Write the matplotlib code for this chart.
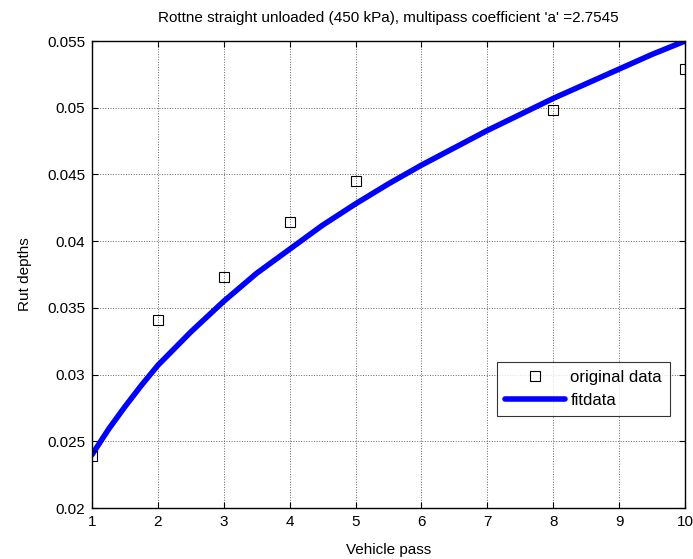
import matplotlib
matplotlib.use("Agg")
import matplotlib.pyplot as plt

plt.rcParams['font.family'] = ['Liberation Sans', 'DejaVu Sans']

# measured rut depths
passes = [1, 2, 3, 4, 5, 8, 10]
rut_depths = [0.0239, 0.0341, 0.0373, 0.0414, 0.0445, 0.0498, 0.0529]

# fitted curve
fit_x = [1, 1.25, 1.5, 1.75, 2, 2.5, 3, 3.5, 4, 4.5, 5, 5.5, 6, 6.5, 7,
         7.5, 8, 8.5, 9, 9.5, 10]
fit_y = [0.0240, 0.0259, 0.0276, 0.0292, 0.0307, 0.0332, 0.0355, 0.0376,
         0.0394, 0.0412, 0.0428, 0.0443, 0.0457, 0.0470, 0.0483, 0.0495,
         0.0507, 0.0518, 0.0529, 0.0540, 0.0550]

title = "Rottne straight unloaded (450 kPa), multipass coefficient 'a' =2.7545"
x_ticks = [1, 2, 3, 4, 5, 6, 7, 8, 9, 10]
y_ticks = [0.02, 0.025, 0.03, 0.035, 0.04, 0.045, 0.05, 0.055]
y_tick_labels = ['0.02', '0.025', '0.03', '0.035', '0.04', '0.045', '0.05', '0.055']

FS = 11

fig = plt.figure(figsize=(6.93, 5.59), dpi=100)
ax = fig.add_axes([0.1328, 0.0912, 0.8557, 0.8354])

ax.plot(passes, rut_depths, linestyle='none', marker='s', markersize=6.5,
        markerfacecolor='none', markeredgecolor='black', markeredgewidth=0.8,
        label='original data', zorder=3)
ax.plot(fit_x, fit_y, color='#0000ff', linewidth=4.0, label='fitdata',
        solid_capstyle='round', zorder=2)

ax.set_xlim(1, 10)
ax.set_ylim(0.02, 0.055)
ax.set_xticks(x_ticks)
ax.set_xticklabels([str(v) for v in x_ticks])
ax.set_yticks(y_ticks)
ax.set_yticklabels(y_tick_labels)

ax.grid(True, linestyle=':', color='#666666', linewidth=0.7)
ax.tick_params(direction='in', top=True, right=True, length=4, width=0.8,
               labelsize=FS, pad=5)
for sp in ax.spines.values():
    sp.set_linewidth(1.0)

ax.set_title(title, fontsize=FS, pad=14)
ax.set_xlabel('Vehicle pass', fontsize=FS, labelpad=10)
ax.set_ylabel('Rut depths', fontsize=FS, labelpad=11)

leg = ax.legend(loc='upper left', bbox_to_anchor=(0.683, 0.313),
                fontsize=12, frameon=True, fancybox=False, edgecolor='black',
                handlelength=3.6, handletextpad=0.3, borderpad=0.5,
                labelspacing=0.45, borderaxespad=0)
leg.get_frame().set_linewidth(0.8)

fig.savefig('out.png', dpi=100)
